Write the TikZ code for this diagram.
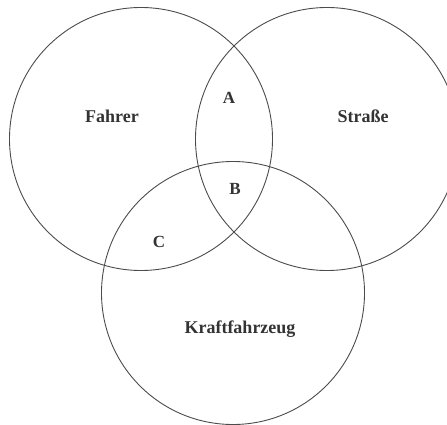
\documentclass[tikz,border=0pt]{standalone}
\usepackage{fontspec}
\setmainfont{Liberation Serif}
\begin{document}
\begin{tikzpicture}[x=1pt,y=-1pt,
  set/.style={draw=black!70,line width=0.9pt,circle,minimum size=263pt,inner sep=0pt},
  setlabel/.style={anchor=base,font=\fontsize{18}{20}\selectfont\bfseries,text=black!80},
  partlabel/.style={anchor=base,font=\fontsize{17}{19}\selectfont\bfseries,text=black!80}]
\useasboundingbox (0,0) rectangle (447,425);
\clip (0,0) rectangle (447,425);

\node[set] (fahrer) at (141,139) {};
\node[set] (strasse) at (327,139) {};
\node[set] (kfz) at (233,293) {};

\node[setlabel] (lfahrer) at (112,123) {Fahrer};
\node[setlabel] (lstrasse) at (363,123) {Straße};
\node[setlabel] (lkfz) at (240,333) {Kraftfahrzeug};

\node[partlabel] (a) at (229,104) {A};
\node[partlabel] (b) at (235,194) {B};
\node[partlabel] (c) at (159,247) {C};

\end{tikzpicture}
\end{document}
